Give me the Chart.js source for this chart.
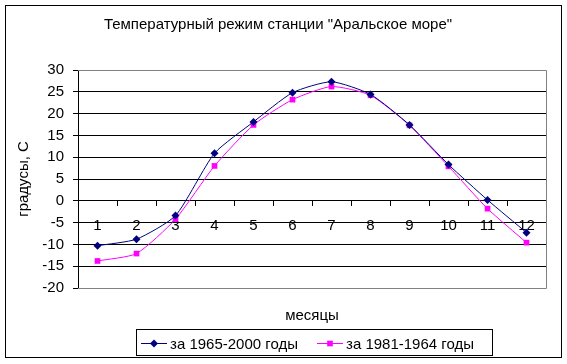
<!DOCTYPE html>
<html>
<head>
<meta charset="utf-8">
<script src="https://cdn.jsdelivr.net/npm/chart.js@4"></script>
<style>
  html, body { margin: 0; padding: 0; background: #fff; }
  #wrap { width: 567px; height: 364px; }
</style>
</head>
<body>
<div id="wrap"><canvas id="canvas" width="567" height="364"></canvas></div>
<script>
// months and the two series
var months = ['1', '2', '3', '4', '5', '6', '7', '8', '9', '10', '11', '12'];
var temp1965 = [-10.3, -8.8, -3.4, 10.9, 18.1, 24.8, 27.3, 24.4, 17.4, 8.3, 0.2, -7.3];
var temp1981 = [-13.8, -12.1, -4.2, 8.0, 17.4, 23.2, 26.2, 24.2, 17.3, 7.9, -1.8, -9.6];
var seriesNames = ['за 1965-2000 годы', 'за 1981-1964 годы'];
var chartTitle = 'Температурный режим станции "Аральское море"';
var yTitle = 'градусы, С';
var xTitle = 'месяцы';

var FAMILY = '"Liberation Sans", Arial, sans-serif';
var FONT = '15px ' + FAMILY;
var navy = '#000080';
var pink = '#FF00FF';

// draws the frame, titles and the boxed legend like the Excel chart
var decor = {
    id: 'decor',
    beforeDatasetsDraw: function(chart) {
        var ctx = chart.ctx, a = chart.chartArea;
        ctx.save();
        ctx.strokeStyle = '#808080';
        ctx.lineWidth = 1;
        ctx.beginPath();
        ctx.moveTo(a.left, a.top + 0.5);
        ctx.lineTo(a.right + 0.5, a.top + 0.5);
        ctx.lineTo(a.right + 0.5, a.bottom + 0.5);
        ctx.lineTo(a.left, a.bottom + 0.5);
        ctx.stroke();
        ctx.restore();
    },
    afterDraw: function(chart) {
        var ctx = chart.ctx, a = chart.chartArea;
        ctx.save();
        ctx.strokeStyle = '#000';
        ctx.lineWidth = 1;
        ctx.strokeRect(5.5, 5.5, 556, 352);

        ctx.fillStyle = '#000';
        ctx.font = FONT;
        ctx.textAlign = 'center';
        ctx.textBaseline = 'alphabetic';
        ctx.fillText(chartTitle, 278, 29);
        ctx.fillText(xTitle, (a.left + a.right) / 2, 320);

        ctx.save();
        ctx.translate(28, (a.top + a.bottom) / 2);
        ctx.rotate(-Math.PI / 2);
        ctx.fillText(yTitle, 0, 0);
        ctx.restore();

        // legend
        ctx.strokeRect(136.5, 329.5, 356, 26);
        var items = [
            {x: 141, color: navy, style: 'rectRot', text: seriesNames[0]},
            {x: 317, color: pink, style: 'rect', text: seriesNames[1]}
        ];
        items.forEach(function(it) {
            var y = 343;
            ctx.strokeStyle = it.color;
            ctx.beginPath();
            ctx.moveTo(it.x, y + 0.5);
            ctx.lineTo(it.x + 26, y + 0.5);
            ctx.stroke();
            ctx.fillStyle = it.color;
            Chart.helpers.drawPoint(ctx, {pointStyle: it.style, radius: 4, borderWidth: 0}, it.x + 13, y + 0.5);
            ctx.fillStyle = '#000';
            ctx.textAlign = 'left';
            ctx.fillText(it.text, it.x + 29, 349);
        });
        ctx.restore();
    }
};

var ctx = document.getElementById('canvas').getContext('2d');
var config = {
    type: 'line',
    data: {
        labels: months,
        datasets: [{
            label: seriesNames[0],
            data: temp1965,
            borderColor: navy,
            backgroundColor: navy,
            borderWidth: 1,
            pointStyle: 'rectRot',
            pointRadius: 4,
            pointBorderWidth: 0,
            tension: 0.2
        }, {
            label: seriesNames[1],
            data: temp1981,
            borderColor: pink,
            backgroundColor: pink,
            borderWidth: 1,
            pointStyle: 'rect',
            pointRadius: 4,
            pointBorderWidth: 0,
            tension: 0.2
        }]
    },
    options: {
        responsive: false,
        animation: false,
        events: [],
        layout: { padding: { left: 5, top: 70, right: 21, bottom: 76 } },
        plugins: { legend: { display: false }, title: { display: false }, tooltip: { enabled: false } },
        scales: {
            x: {
                position: { y: 0 },
                offset: true,
                grid: { display: true, drawOnChartArea: false, offset: true, tickLength: 5, color: '#000' },
                border: { color: '#000', width: 1 },
                ticks: { color: '#000', font: { family: FAMILY, size: 15 }, padding: 11, maxRotation: 0, autoSkip: false }
            },
            y: {
                min: -20,
                max: 30,
                afterFit: function(scale) { scale.width = 73; },
                grid: {
                    tickLength: 5,
                    tickColor: '#000',
                    color: function(c) { return (c.tick && (c.tick.value === 30 || c.tick.value === -20)) ? '#808080' : '#000'; }
                },
                border: { color: '#000', width: 1 },
                ticks: { stepSize: 5, color: '#000', padding: 9, font: { family: FAMILY, size: 15 } }
            }
        }
    },
    plugins: [decor]
};
var chart = new Chart(ctx, config);
</script>
</body>
</html>
